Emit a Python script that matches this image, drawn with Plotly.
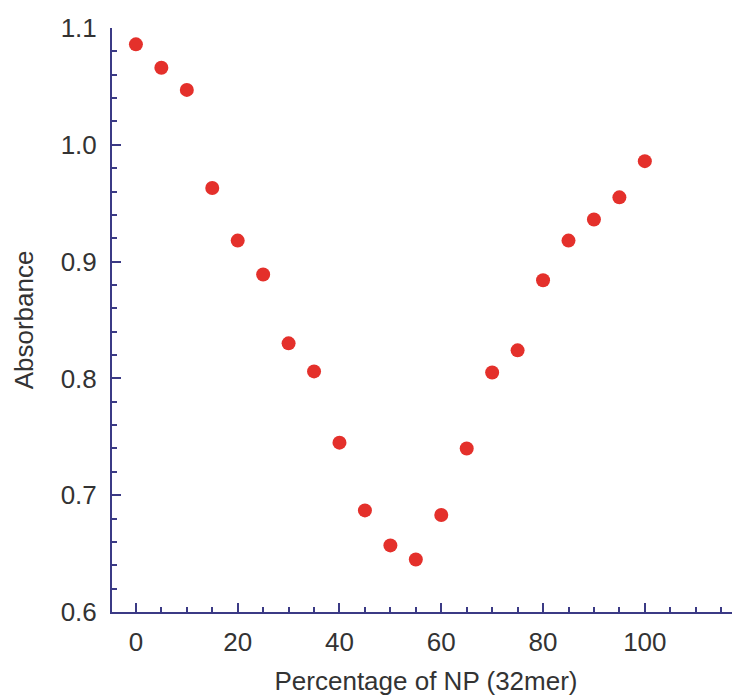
import plotly.graph_objects as go

percent_np = [0, 5, 10, 15, 20, 25, 30, 35, 40, 45, 50, 55, 60, 65, 70, 75, 80, 85, 90, 95, 100]
absorbance = [1.086, 1.066, 1.047, 0.963, 0.918, 0.889, 0.830, 0.806, 0.745, 0.687, 0.657, 0.645,
              0.683, 0.740, 0.805, 0.824, 0.884, 0.918, 0.936, 0.955, 0.986]
x_ticks = [0, 20, 40, 60, 80, 100]

axis_color = "#3b3a85"
text_color = "#333333"
font_family = "Liberation Sans, Arial, sans-serif"
fsize = 26

fig = go.Figure(go.Scatter(
    x=percent_np, y=absorbance, mode="markers",
    marker=dict(color="#e4302b", size=14, line=dict(width=0)),
))

fig.update_layout(
    width=732, height=689,
    margin=dict(l=104, r=0, t=20, b=85, autoexpand=False),
    paper_bgcolor="white", plot_bgcolor="white",
    showlegend=False,
    font=dict(family=font_family, size=fsize, color=text_color),
)

fig.update_xaxes(
    range=[-4.7, 118.7], tickmode="array", tickvals=x_ticks,
    showgrid=False, zeroline=False, automargin=False,
    showline=True, linecolor=axis_color, linewidth=2,
    ticks="inside", ticklen=9, tickwidth=2, tickcolor=axis_color,
    minor=dict(tickmode="linear", dtick=5, tick0=0, ticks="inside", ticklen=5, tickwidth=2,
               tickcolor=axis_color, showgrid=False),
    tickfont=dict(size=fsize, color=text_color),
    ticklabelstandoff=6,
    title=dict(text="Percentage of NP (32mer)", font=dict(size=fsize, color=text_color), standoff=16),
)

fig.update_yaxes(
    range=[0.6, 1.1], tickmode="linear", tick0=0.6, dtick=0.1, tickformat=".1f",
    showgrid=False, zeroline=False, automargin=False,
    showline=True, linecolor=axis_color, linewidth=2,
    ticks="inside", ticklen=9, tickwidth=2, tickcolor=axis_color,
    minor=dict(dtick=0.02, tick0=0.6, ticks="inside", ticklen=5, tickwidth=2, tickcolor=axis_color, showgrid=False),
    tickfont=dict(size=fsize, color=text_color),
    ticklabelstandoff=8,
    title=dict(text="Absorbance", font=dict(size=fsize, color=text_color), standoff=20),
)

fig.write_html("out.html")
